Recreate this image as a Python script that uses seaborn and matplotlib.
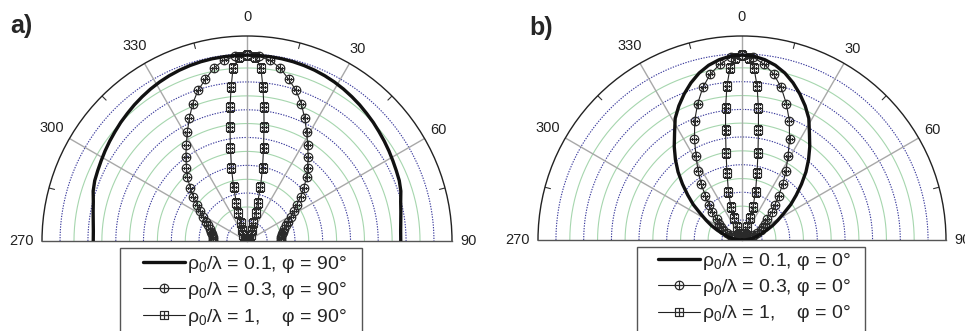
import numpy as np
import matplotlib
matplotlib.use("Agg")
import matplotlib.pyplot as plt
from matplotlib.path import Path
from matplotlib.patches import Rectangle
import seaborn as sns

# ---------------- data (one half; patterns are symmetric) ----
theta_half = [0, 3.6, 7.2, 10.8, 14.4, 18.0, 21.6, 25.2, 28.8, 32.4, 36.0, 39.6, 43.2,
              46.8, 50.4, 54.0, 57.6, 61.2, 64.8, 68.4, 72.0, 75.6, 79.2, 82.8, 86.4, 90]

# panel a) phi = 90 deg
a_r01 = [0.907, 0.907, 0.906, 0.905, 0.903, 0.900, 0.896, 0.891, 0.885, 0.878, 0.870,
         0.862, 0.853, 0.845, 0.836, 0.828, 0.820, 0.812, 0.805, 0.799, 0.789, 0.774,
         0.764, 0.756, 0.751, 0.750]
a_r03 = [0.907, 0.903, 0.889, 0.860, 0.815, 0.773, 0.720, 0.661, 0.605, 0.553, 0.507,
         0.463, 0.425, 0.380, 0.340, 0.300, 0.270, 0.243, 0.222, 0.207, 0.192, 0.180,
         0.173, 0.168, 0.166, 0.165]
a_theta1 = [0, 2.5, 4.6, 5.9, 7.2, 8.5, 10.1, 12.0, 14.0, 15.5, 16.9, 18.9, 24.4, 30.3,
            45, 60, 75, 90]
a_r1 = [0.907, 0.898, 0.847, 0.755, 0.659, 0.562, 0.461, 0.364, 0.272, 0.192, 0.143,
        0.093, 0.059, 0.034, 0.014, 0.006, 0.002, 0.0]

# panel b) phi = 0 deg
b_r01 = [0.907, 0.903, 0.891, 0.872, 0.845, 0.810, 0.770, 0.727, 0.680, 0.617, 0.565,
         0.512, 0.458, 0.400, 0.345, 0.295, 0.241, 0.200, 0.165, 0.130, 0.100, 0.078,
         0.061, 0.040, 0.020, 0.0]
b_r03 = [0.907, 0.897, 0.868, 0.828, 0.772, 0.703, 0.630, 0.547, 0.468, 0.402, 0.341,
         0.282, 0.235, 0.201, 0.162, 0.137, 0.123, 0.105, 0.083, 0.064, 0.049, 0.034,
         0.022, 0.012, 0.005, 0.0]
b_theta1 = [0, 2.2, 4.0, 5.6, 7.1, 8.5, 10.4, 12.6, 15.7, 18.4, 20.0, 22.9, 28.3, 38.7,
            60, 90]
b_r1 = [0.907, 0.893, 0.845, 0.758, 0.652, 0.545, 0.434, 0.337, 0.245, 0.171, 0.115,
        0.069, 0.036, 0.016, 0.005, 0.0]

angle_ticks = [-90, -60, -30, 0, 30, 60, 90]
angle_labels = ["270", "300", "330", "0", "30", "60", "90"]
ring_values = [0.098, 0.166, 0.234, 0.301, 0.369, 0.437, 0.505, 0.573, 0.640, 0.708,
               0.776, 0.844, 0.912]

labels_a = [r"ρ$_0$/λ = 0.1, φ = 90°", r"ρ$_0$/λ = 0.3, φ = 90°", r"ρ$_0$/λ = 1,    φ = 90°"]
labels_b = [r"ρ$_0$/λ = 0.1, φ = 0°", r"ρ$_0$/λ = 0.3, φ = 0°", r"ρ$_0$/λ = 1,    φ = 0°"]

# ---------------- style ----------------
sns.set_theme(style="white")
plt.rcParams["font.family"] = ["Liberation Sans", "DejaVu Sans"]
plt.rcParams["mathtext.fontset"] = "custom"
plt.rcParams["mathtext.rm"] = "Liberation Sans"
plt.rcParams["mathtext.it"] = "Liberation Sans:italic"
plt.rcParams["mathtext.bf"] = "Liberation Sans:bold"

plus = Path([[-1, 0], [1, 0], [0, -1], [0, 1]],
            [Path.MOVETO, Path.LINETO, Path.MOVETO, Path.LINETO])
circle_plus = Path.make_compound_path(Path.unit_circle(), plus)
square = Path([[-1, -1], [1, -1], [1, 1], [-1, 1], [-1, -1]],
              [Path.MOVETO, Path.LINETO, Path.LINETO, Path.LINETO, Path.CLOSEPOLY])
square_plus = Path.make_compound_path(square, plus)


def mirror(th, r):
    th = np.asarray(th, float)
    r = np.asarray(r, float)
    full_t = np.concatenate([-th[::-1], th[1:]])
    full_r = np.concatenate([r[::-1], r[1:]])
    return np.deg2rad(full_t), full_r


fig = plt.figure(figsize=(9.65, 3.31), dpi=100)
W, H = 965.0, 331.0


def make_axes(cx, cy, R):
    # polar half-wedge sits in the middle half of a square axes box
    bottom_px = (H - cy) - 0.5 * R
    ax = fig.add_axes([(cx - R) / W, bottom_px / H, 2 * R / W, 2 * R / H],
                      projection="polar")
    ax.set_theta_zero_location("N")
    ax.set_theta_direction(-1)
    ax.set_thetamin(-90)
    ax.set_thetamax(90)
    ax.set_ylim(0, 1)
    ax.grid(False)
    ax.set_xticks([])
    ax.set_yticks([])
    ax.patch.set_alpha(0)
    ax.spines["polar"].set_color("#222222")
    ax.spines["polar"].set_linewidth(1.0)
    for s in ("start", "end"):
        ax.spines[s].set_color("#555555")
        ax.spines[s].set_linewidth(1.0)
    ax.spines["inner"].set_visible(False)

    tt = np.linspace(-np.pi / 2, np.pi / 2, 400)
    for i, rv in enumerate(ring_values):
        if i % 2 == 0:
            ax.plot(tt, np.full_like(tt, rv), color="#3a3a9c", lw=0.8,
                    ls=(0, (1.2, 1.2)), zorder=1)
        else:
            ax.plot(tt, np.full_like(tt, rv), color="#a6d6ae", lw=0.8, zorder=1)
    for t in (-60, -30, 0, 30, 60):
        ax.plot([np.deg2rad(t)] * 2, [0, 1], color="#a8a8a8", lw=1.0, zorder=1.5)
    for t in (-75, -45, -15, 15, 45, 75):
        ax.plot([np.deg2rad(t)] * 2, [0.972, 1.0], color="#333333", lw=0.8, zorder=1.5)
    for t, lab in zip(angle_ticks, angle_labels):
        rr = 1.10 if len(lab) == 3 else (1.095 if lab == "0" else 1.08)
        ax.text(np.deg2rad(t), rr, lab, ha="center", va="center", fontsize=10.5,
                color="#222222", clip_on=False)
    return ax


def draw_panel(ax, r01, r03, th1, r1, labels, box_l, box_r, box_t, hand_l, row1_y):
    t, r = mirror(theta_half, r03)
    sns.lineplot(x=t, y=r, ax=ax, sort=False, estimator=None, color="#222222", lw=0.8,
                 marker=circle_plus, markersize=6.2, markerfacecolor="none",
                 markeredgecolor="#2a2a2a", markeredgewidth=0.85, zorder=3)
    t, r = mirror(th1, r1)
    sns.lineplot(x=t, y=r, ax=ax, sort=False, estimator=None, color="#222222", lw=0.8,
                 marker=square_plus, markersize=6.2, markerfacecolor="none",
                 markeredgecolor="#2a2a2a", markeredgewidth=0.85, zorder=3)
    t, r = mirror(theta_half, r01)
    sns.lineplot(x=t, y=r, ax=ax, sort=False, estimator=None, color="#111111", lw=2.4,
                 zorder=4)
    ax.set_xlabel("")
    ax.set_ylabel("")
    # legend box (white, grey edge, runs off the bottom of the figure)
    box = Rectangle((box_l / W, -0.05), (box_r - box_l) / W, (H - box_t) / H + 0.05,
                    transform=fig.transFigure, facecolor="white", edgecolor="#555555",
                    lw=1.0, zorder=9, clip_on=False)
    ax.add_artist(box)
    lines = ax.get_lines()
    handles = [lines[-1], lines[-3], lines[-2]]
    leg = ax.legend(handles, labels, loc="upper left",
                    bbox_to_anchor=(hand_l / W, 1 - (row1_y - 12) / H),
                    bbox_transform=fig.transFigure, frameon=False,
                    fontsize=14, handlelength=2.15, labelspacing=0.27,
                    borderpad=0.0, borderaxespad=0.0, handletextpad=0.12,
                    numpoints=1)
    leg.set_zorder(10)


axA = make_axes(247, 241, 205)
draw_panel(axA, a_r01, a_r03, a_theta1, a_r1, labels_a, 120, 362, 248, 143, 266)
axB = make_axes(742, 240, 204)
draw_panel(axB, b_r01, b_r03, b_theta1, b_r1, labels_b, 637, 865, 247, 658, 263)

fig.text(10 / W, 1 - 14 / H, "a)", fontsize=18, fontweight="bold", ha="left", va="top")
fig.text(529 / W, 1 - 16 / H, "b)", fontsize=18, fontweight="bold", ha="left", va="top")

fig.savefig("out.png", dpi=100)
